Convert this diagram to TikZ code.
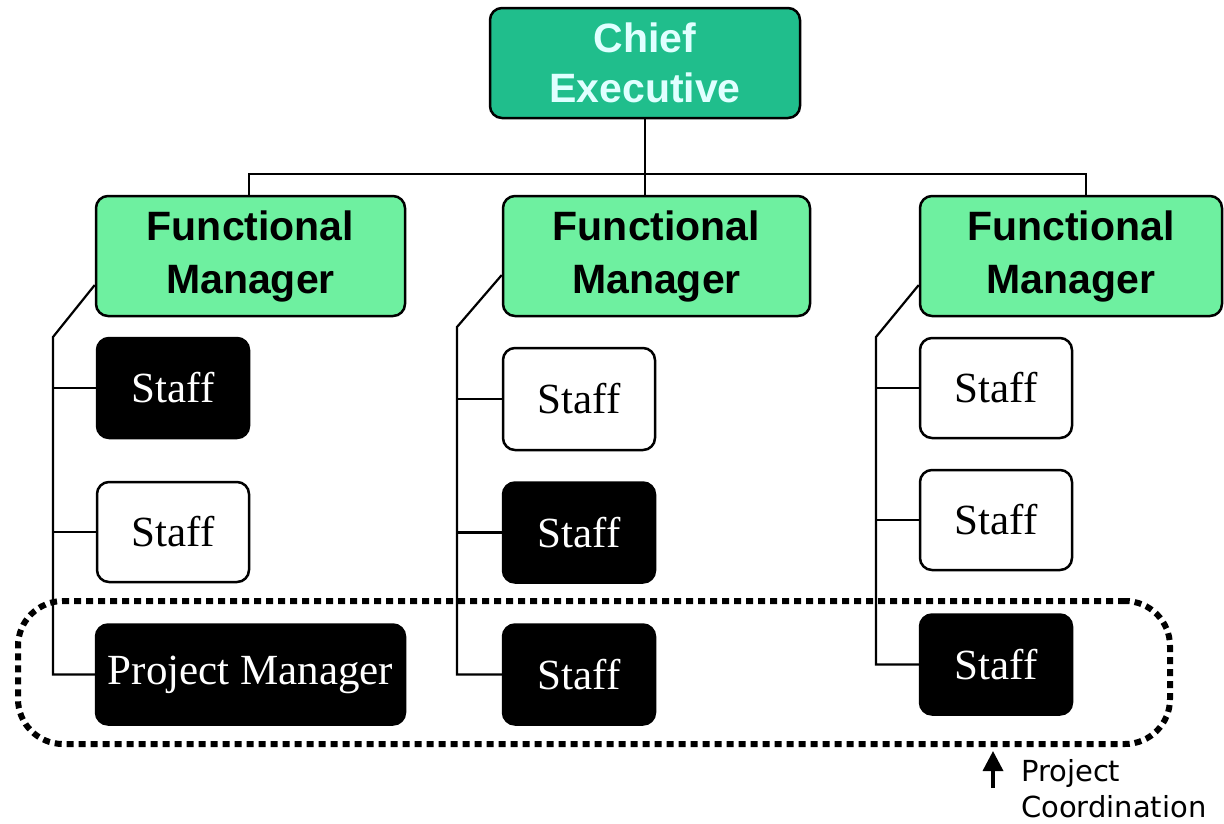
\documentclass[tikz,border=0pt]{standalone}
\usepackage{fontspec}
\setmainfont{Liberation Serif}
\newfontfamily\boxfont{Liberation Sans}
\newfontfamily\notefont{DejaVu Sans}
\usetikzlibrary{arrows.meta}
\definecolor{chiefgreen}{HTML}{20BE8C}
\definecolor{fmgreen}{HTML}{6EF0A0}
\definecolor{chieftext}{HTML}{E0FFFF}

\begin{document}
\begin{tikzpicture}[x=1pt, y=-1pt, line width=2.2pt]
	\tikzstyle{box} = [draw, line width=2.5pt, rounded corners=12pt, inner sep=0pt, align=center]
	\tikzstyle{chief} = [box, fill=chiefgreen, text=chieftext, font=\boxfont\bfseries\fontsize{41}{50}\selectfont, minimum width=310pt, minimum height=110pt]
	\tikzstyle{manager} = [box, fill=fmgreen, font=\boxfont\bfseries\fontsize{41}{53}\selectfont, minimum width=307pt, minimum height=120pt]
	\tikzstyle{staff} = [box, fill=white, font=\fontsize{43}{50}\selectfont, minimum width=152pt, minimum height=100pt]
	\tikzstyle{dark} = [staff, fill=black, text=white]
	\useasboundingbox (0,0) rectangle (1224,823);
	\node (loop) [draw, line width=6pt, dash pattern=on 7pt off 5pt, rounded corners=45pt, minimum width=1152pt, minimum height=143pt] at (594,672.5) {};
	\node (chief) [chief] at (645,63) {Chief\\Executive};
	\node (fm1) [manager, minimum width=309pt] at (250.5,256) {Functional\\Manager};
	\node (fm2) [manager] at (656.5,256) {Functional\\Manager};
	\node (fm3) [manager, minimum width=302pt] at (1071,256) {Functional\\Manager};
	\node (s11) [dark] at (173,388) {Staff};
	\node (s12) [staff] at (173,532) {Staff};
	\node (pm) [dark, minimum width=309pt] at (250.5,674.5) {Project Manager};
	\node (s21) [staff, minimum height=102pt] at (579,399) {Staff};
	\node (s22) [dark] at (579,532.5) {Staff};
	\node (s23) [dark] at (579,674.5) {Staff};
	\node (s31) [staff] at (996,388) {Staff};
	\node (s32) [staff] at (996,520) {Staff};
	\node (s33) [dark] at (996,664.5) {Staff};
	\node (pc) [anchor=north west, align=left, inner sep=0pt, font=\notefont\fontsize{29}{36}\selectfont] at (1020,758) {Project\\Coordination};
	\coordinate (h1) at (249,174);
	\coordinate (h3) at (1086,174);
	\coordinate (b1) at (53,337);
	\coordinate (b2) at (457,327);
	\coordinate (b3) at (876,337);
	\coordinate (pctail) at (993,788);
	\draw (chief.south) -- (chief.south |- fm2.north);
	\draw (h1 |- fm1.north) -- (h1) -- (h3) -- (h3 |- fm3.north);
	\draw ([yshift=-29pt]fm1.west) -- (b1) -- (b1 |- pm.west) -- (pm.west);
	\draw (b1 |- s11.west) -- (s11.west);
	\draw (b1 |- s12.west) -- (s12.west);
	\draw ([yshift=-19pt]fm2.west) -- (b2) -- (b2 |- s23.west) -- (s23.west);
	\draw (b2 |- s21.west) -- (s21.west);
	\draw (b2 |- s22.west) -- (s22.west);
	\draw ([yshift=-29pt]fm3.west) -- (b3) -- (b3 |- s33.west) -- (s33.west);
	\draw (b3 |- s31.west) -- (s31.west);
	\draw (b3 |- s32.west) -- (s32.west);
	\draw [line width=3.5pt, -{Triangle[width=20pt, length=20pt]}] (pctail) -- ([yshift=-4pt]pctail |- loop.south);
\end{tikzpicture}
\end{document}
